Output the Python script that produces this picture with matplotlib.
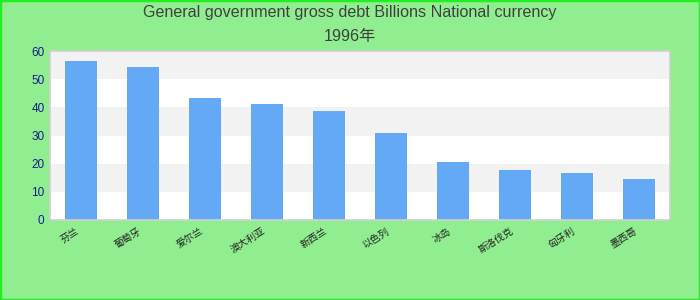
import matplotlib
matplotlib.use("Agg")
import matplotlib.pyplot as plt
from matplotlib.patches import Rectangle

plt.rcParams['font.family'] = ['Liberation Sans', 'Noto Sans CJK SC', 'DejaVu Sans']

categories = ['芬兰', '葡萄牙', '爱尔兰', '澳大利亚', '新西兰', '以色列', '冰岛', '斯洛伐克', '匈牙利', '墨西哥']
values = [56.5, 54.3, 43.3, 41.2, 38.8, 31.0, 20.7, 17.9, 16.8, 14.7]
yticks = [0, 10, 20, 30, 40, 50, 60]

fig = plt.figure(figsize=(7, 3), dpi=100, facecolor='#90ee90')
fig.patches.append(Rectangle((0, 0), 1, 1, transform=fig.transFigure, fill=False,
                             edgecolor='#22ee22', linewidth=2.5, zorder=10))
ax = fig.add_axes([50/700, 1 - 220/300, 620/700, 169/300])
ax.set_facecolor('white')
for i in range(0, 60, 10):
    if (i // 10) % 2 == 1:
        ax.axhspan(i, i + 10, color='#f2f2f2', zorder=0, linewidth=0)

x = list(range(len(categories)))
ax.bar(x, values, width=0.52, color='#63a9f5', zorder=2)
ax.set_xlim(-0.5, len(categories) - 0.5)
ax.set_ylim(0, 60)
ax.set_yticks(yticks)
ax.set_yticklabels([str(v) for v in yticks], color='#1a1a8c', fontsize=8.5)
ax.set_xticks(x)
ax.set_xticklabels(categories, rotation=32, ha='right', fontsize=7,
                   family=['Noto Sans CJK SC', 'DejaVu Sans'], color='#222222')
ax.tick_params(axis='both', length=0, pad=4)
for s in ax.spines.values():
    s.set_color('#d0d0d0')
    s.set_linewidth(1.2)

fig.text(0.5, 1 - 13/300, 'General government gross debt Billions National currency',
         ha='center', va='center', fontsize=11.6, color='#404040')
fig.text(0.5, 1 - 36/300, '1996年', ha='center', va='center', fontsize=11.6, color='#404040',
         family=['Liberation Sans', 'Noto Sans CJK SC'])

fig.savefig('out.png', dpi=100, facecolor=fig.get_facecolor())
